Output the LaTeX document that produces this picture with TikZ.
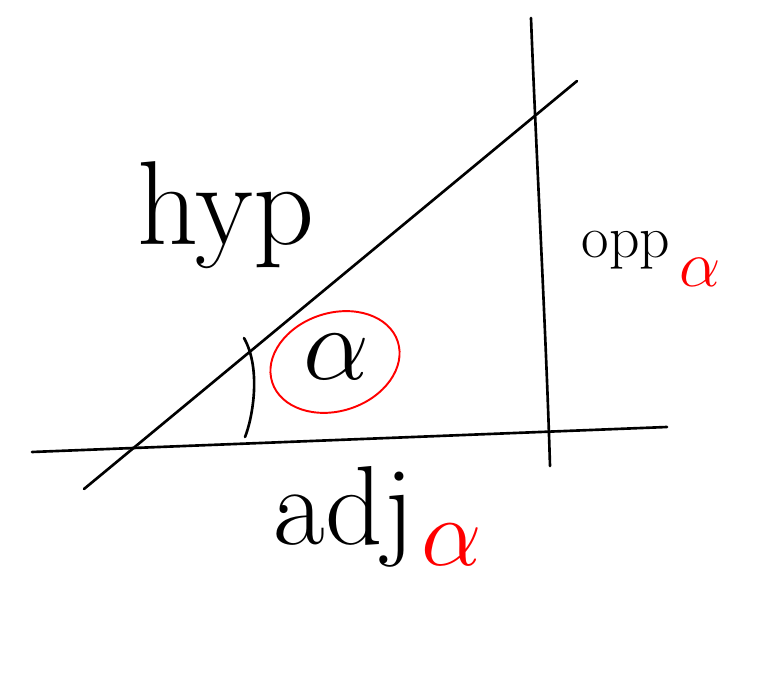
\documentclass[tikz,border=0pt]{standalone}
\usepackage{amsmath}
\usepackage{xcolor}
\usepackage{tikz}
\usetikzlibrary{positioning}

\tikzset{
  pen/.style={line width=1.5pt, line cap=round},
  redpen/.style={red, line width=1.1pt},
  word/.style={inner sep=0pt, anchor=base},
  greek/.style={inner sep=0pt, font=\Huge},
}

\begin{document}
\begin{tikzpicture}[x=0.02cm, y=-0.02cm]
    \useasboundingbox (0,0) rectangle (769,679);
    % the three lines
    \coordinate (b1) at (32,452);
    \coordinate (b2) at (667,427);
    \coordinate (h1) at (84,489);
    \coordinate (h2) at (577,81);
    \coordinate (v1) at (531,18);
    \coordinate (v2) at (550,466);
    \draw[pen] (b1) -- (b2);
    \draw[pen] (h1) -- (h2);
    \draw[pen] (v1) .. controls (536,150) and (546,330) .. (v2);
    % angle mark
    \coordinate (a1) at (244,338);
    \coordinate (a2) at (245,437);
    \draw[pen] (a1) .. controls (262,370) and (252,420) .. (a2);
    % circled alpha
    \node[greek, scale=2.4] (alf) at (337,357) {$\alpha$};
    \draw[redpen, rotate around={18:(335,362)}] (335,362) ellipse [x radius=66, y radius=49];
    % labels
    \node[word, font=\fontsize{68}{68}\selectfont] (hyp) at (226,245) {hyp};
    \node[word, font=\fontsize{34}{34}\selectfont] (opp) at (626,258) {opp};
    \node[greek, red, scale=1.5] (oppa) at (700,272) {$\alpha$};
    \node[word, font=\fontsize{64}{64}\selectfont] (adj) at (344,545) {adj};
    \node[greek, red, scale=2.2] (adja) at (452,545) {$\alpha$};
  \end{tikzpicture}
\end{document}
